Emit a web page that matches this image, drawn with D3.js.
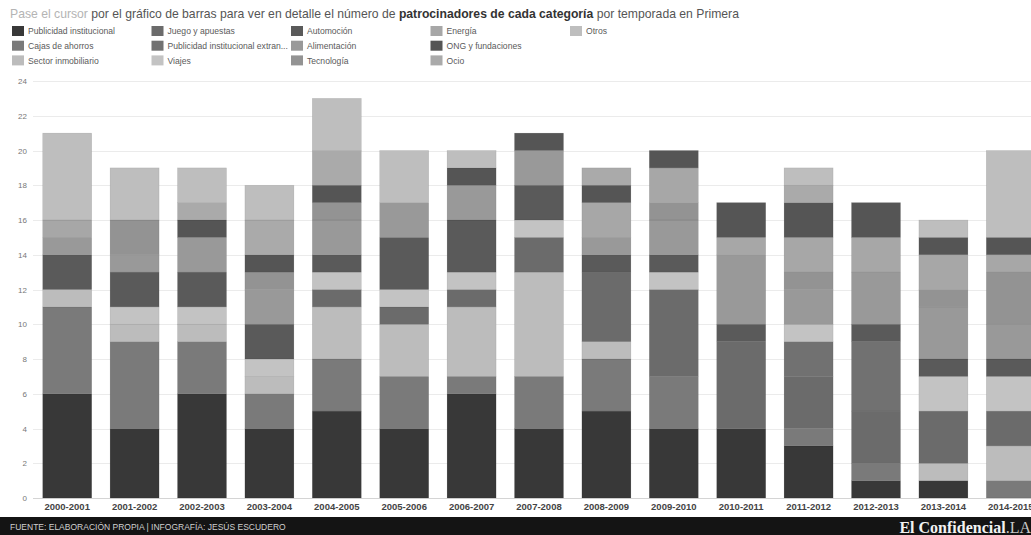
<!DOCTYPE html>
<html>
<head>
<meta charset="utf-8">
<script src="https://cdn.jsdelivr.net/npm/d3@7/dist/d3.min.js"></script>
<style>
  html, body { margin: 0; padding: 0; background: #fff; }
  svg { display: block; font-family: "Liberation Sans", Arial, sans-serif; }
</style>
</head>
<body>
<svg id="chart" width="1031" height="535"></svg>
<script>
// ---------- DATA ----------
const seasons = ["2000-2001","2001-2002","2002-2003","2003-2004","2004-2005","2005-2006","2006-2007",
  "2007-2008","2008-2009","2009-2010","2010-2011","2011-2012","2012-2013","2013-2014","2014-2015"];

const categories = ["Publicidad institucional","Cajas de ahorros","Sector inmobiliario","Juego y apuestas",
  "Publicidad institucional extranjera","Viajes","Automoción","Alimentación","Tecnología","Energía",
  "ONG y fundaciones","Ocio","Otros"];
const legendLabels = ["Publicidad institucional","Cajas de ahorros","Sector inmobiliario","Juego y apuestas",
  "Publicidad institucional extran...","Viajes","Automoción","Alimentación","Tecnología","Energía",
  "ONG y fundaciones","Ocio","Otros"];

const publicidadInstitucional = [6,4,6,4,5,4,6,4,5,4,4,3,1,1,0];
const cajasDeAhorros          = [5,5,3,2,3,3,1,3,3,3,0,1,1,0,1];
const sectorInmobiliario      = [1,1,1,1,3,3,4,6,1,0,0,0,0,1,2];
const juegoYApuestas          = [0,0,0,0,1,1,1,2,4,5,5,3,3,3,2];
const publicidadExtranjera    = [0,0,0,0,0,0,0,0,0,0,0,2,4,0,0];
const viajes                  = [0,1,1,1,1,1,1,1,0,1,0,1,0,2,2];
const automocion              = [2,2,2,2,1,3,3,2,1,1,1,0,1,1,1];
const alimentacion            = [1,1,2,2,2,2,2,2,1,2,4,2,3,3,2];
const tecnologia              = [0,2,0,1,1,0,0,0,0,1,0,1,0,1,3];
const energia                 = [1,0,0,0,0,0,0,0,2,2,1,2,2,2,1];
const ongYFundaciones         = [0,0,1,1,1,0,1,1,1,1,2,2,2,1,1];
const ocio                    = [0,0,1,2,2,0,0,0,1,0,0,1,0,0,0];
const otros                   = [5,3,2,2,3,3,1,0,0,0,0,1,0,1,5];

const yTicks = [0,2,4,6,8,10,12,14,16,18,20,22,24];

const colors = ["#383838","#7a7a7a","#bcbcbc","#6b6b6b","#717171","#c3c3c3","#5a5a5a",
  "#999999","#939393","#a7a7a7","#555555","#aaaaaa","#bebebe"];

const series = [publicidadInstitucional, cajasDeAhorros, sectorInmobiliario, juegoYApuestas,
  publicidadExtranjera, viajes, automocion, alimentacion, tecnologia, energia, ongYFundaciones, ocio, otros];

// table for d3.stack
const table = seasons.map((s, i) => {
  const row = { season: s };
  categories.forEach((c, k) => { row[c] = series[k][i]; });
  return row;
});

// ---------- LAYOUT ----------
const svg = d3.select("#chart");
const W = 1031, H = 535;

const x = d3.scaleBand().domain(seasons).range([33.5, 1044.5]).paddingInner(0.273).paddingOuter(0.1365);
const y = d3.scaleLinear().domain([0, 24]).range([498, 81]);
const color = d3.scaleOrdinal().domain(categories).range(colors);

// Title
const title = svg.append("text").attr("x", 10).attr("y", 18).attr("font-size", 12.2);
title.append("tspan").attr("fill", "#b4b4b4").text("Pase el cursor ");
title.append("tspan").attr("fill", "#555").text("por el gráfico de barras para ver en detalle el número de ");
title.append("tspan").attr("fill", "#333").attr("font-weight", "bold").text("patrocinadores de cada categoría");
title.append("tspan").attr("fill", "#555").text(" por temporada en Primera");

// Legend (column-major, 3 rows)
const leg = svg.append("g");
categories.forEach((c, i) => {
  const col = Math.floor(i / 3), row = i % 3;
  const lx = 12 + col * 139.5, ly = 26 + row * 14.7;
  leg.append("rect").attr("x", lx).attr("y", ly).attr("width", 12).attr("height", 10).attr("fill", color(c));
  leg.append("text").attr("x", lx + 16).attr("y", ly + 8.3).attr("font-size", 8.6).attr("fill", "#5a5a5a")
    .text(legendLabels[i]);
});

// Gridlines
svg.append("g").selectAll("line").data(yTicks).join("line")
  .attr("x1", 33).attr("x2", W).attr("y1", d => Math.round(y(d)) + 0.5).attr("y2", d => Math.round(y(d)) + 0.5)
  .attr("stroke", d => d === 0 ? "#d4d4d4" : "#ebebeb").attr("stroke-width", 1);

// Y axis labels
const yAxis = d3.axisLeft(y).tickValues(yTicks).tickSize(0).tickPadding(0);
const gy = svg.append("g").attr("transform", "translate(27,0)").call(yAxis);
gy.select(".domain").remove();
gy.selectAll("text").attr("font-size", 8).attr("fill", "#777").attr("font-family", "Liberation Sans, Arial, sans-serif");

// Bars
const stacked = d3.stack().keys(categories)(table);
svg.append("g").selectAll("g").data(stacked).join("g")
  .attr("fill", d => color(d.key))
  .selectAll("rect").data(d => d.filter(p => p[1] > p[0])).join("rect")
  .attr("x", d => x(d.data.season))
  .attr("y", d => y(d[1]))
  .attr("width", x.bandwidth())
  .attr("height", d => y(d[0]) - y(d[1]))
  .attr("stroke", "rgba(0,0,0,0.12)").attr("stroke-width", 0.6);

// X axis labels
const xAxis = d3.axisBottom(x).tickSize(0).tickPadding(0);
const gx = svg.append("g").attr("transform", "translate(0,503)").call(xAxis);
gx.select(".domain").remove();
gx.selectAll("text").attr("font-size", 9.5).attr("font-weight", "bold").attr("fill", "#444")
  .attr("font-family", "Liberation Sans, Arial, sans-serif");

// Footer
svg.append("rect").attr("x", 0).attr("y", 517).attr("width", W).attr("height", H - 517).attr("fill", "#141414");
svg.append("text").attr("x", 10).attr("y", 529.5).attr("font-size", 8.5).attr("fill", "#d0d0d0")
  .text("FUENTE: ELABORACIÓN PROPIA | INFOGRAFÍA: JESÚS ESCUDERO");
const brand = svg.append("text").attr("x", 1031).attr("y", 532.5).attr("text-anchor", "end")
  .attr("font-family", "Liberation Serif, 'Times New Roman', serif").attr("font-size", 16).attr("font-weight", "bold");
brand.append("tspan").attr("fill", "#f2f2f2").text("El Confidencial");
brand.append("tspan").attr("fill", "#c8c8c8").attr("font-weight", "normal").text(".LA");
</script>
</body>
</html>
